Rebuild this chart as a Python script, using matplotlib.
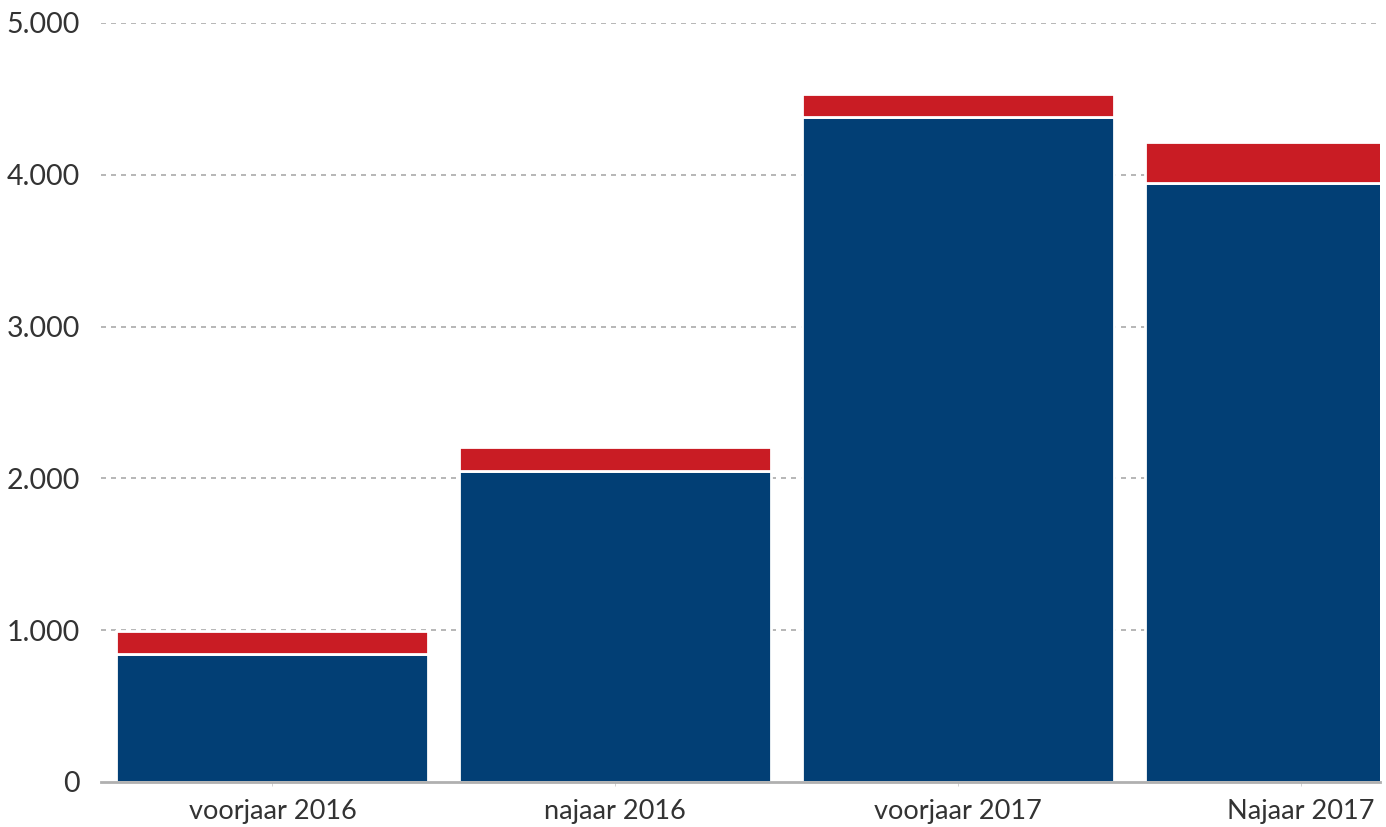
import matplotlib
matplotlib.use("Agg")
import matplotlib.pyplot as plt

# periodes en aantallen
periodes = ["voorjaar 2016", "najaar 2016", "voorjaar 2017", "Najaar 2017"]
blauw = [840, 2052, 4384, 3949]
rood = [158, 158, 145, 264]

plt.rcParams['font.family'] = ['Lato', 'DejaVu Sans']

fig = plt.figure(figsize=(13.86, 8.27), dpi=100)
ax = fig.add_axes([101 / 1386, 45 / 827, 1279 / 1386, 759 / 827])

x = range(len(periodes))
ax.bar(x, blauw, width=0.91, color="#023F75", edgecolor="white", linewidth=2, zorder=3)
ax.bar(x, rood, bottom=blauw, width=0.91, color="#C91C24", edgecolor="white", linewidth=2, zorder=3)

ax.set_xlim(-0.5, 3.23)
ax.set_ylim(0, 5000)
ax.set_yticks([0, 1000, 2000, 3000, 4000, 5000])
ax.set_yticklabels(["0", "1.000", "2.000", "3.000", "4.000", "5.000"])
ax.set_xticks(list(x))
ax.set_xticklabels(periodes)

# stippellijnen
for v in [1000, 2000, 3000, 4000, 5000]:
    ax.axhline(v, color="#aaaaaa", linestyle=(0, (3, 3)), linewidth=1.2, zorder=1)

for s in ["top", "right", "left"]:
    ax.spines[s].set_visible(False)
ax.spines["bottom"].set_color("#b0b0b0")
ax.spines["bottom"].set_linewidth(2)
ax.spines["bottom"].set_zorder(4)

ax.tick_params(axis="y", length=0, pad=15, labelsize=20.5, labelcolor="#333333")
ax.tick_params(axis="x", length=3, width=0.6, color="#cccccc", pad=9, labelsize=19.5, labelcolor="#333333")

fig.savefig("out.png", dpi=100)
